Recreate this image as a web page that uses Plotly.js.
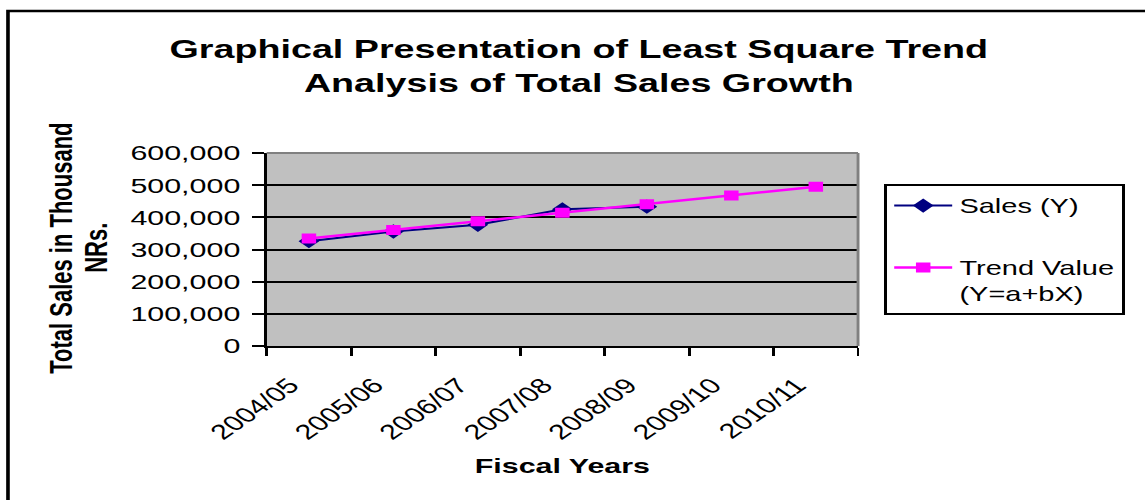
<!DOCTYPE html>
<html>
<head>
<meta charset="utf-8">
<script src="https://cdn.plot.ly/plotly-3.0.1.min.js"></script>
<style>
  html, body { margin: 0; padding: 0; width: 1145px; height: 500px; overflow: hidden; background: #ffffff; }
  #chart { width: 790px; height: 500px; transform: scaleX(1.4494); transform-origin: 0 0; }
</style>
</head>
<body>
<div id="chart"></div>
<script>
// ---- data ----
const fiscalYears = ['2004/05', '2005/06', '2006/07', '2007/08', '2008/09', '2009/10', '2010/11'];
const salesYears = ['2004/05', '2005/06', '2006/07', '2007/08', '2008/09'];
const salesValues = [326000, 356000, 377000, 425000, 433000];
const trendValues = [334000, 361000, 388000, 414000, 441000, 468000, 495000];
const yTickValues = [0, 100000, 200000, 300000, 400000, 500000, 600000];
const yTitleLines = ['Total Sales in Thousand', 'NRs.'];

const FONT = '"Liberation Sans", Arial, Helvetica, sans-serif';

const traces = [
  {
    type: 'scatter', mode: 'lines+markers', name: 'Sales (Y)',
    x: salesYears, y: salesValues, legendgroup: 'a',
    line: { color: '#000080', width: 2 },
    marker: { symbol: 'diamond', size: 11, color: '#000080' }
  },
  {
    type: 'scatter', mode: 'lines+markers', name: 'Trend Value<br>(Y=a+bX)',
    x: fiscalYears, y: trendValues, legendgroup: 'b',
    line: { color: '#FF00FF', width: 2.5 },
    marker: { symbol: 'square', size: 10, color: '#FF00FF' }
  }
];

const layout = {
  width: 790, height: 500,
  margin: { l: 184, r: 198, t: 153, b: 154 },
  paper_bgcolor: '#ffffff',
  plot_bgcolor: '#C0C0C0',
  font: { family: FONT, color: '#000000' },
  showlegend: true,
  title: {
    text: '<b>Graphical Presentation of Least Square Trend<br>Analysis of Total Sales Growth</b>',
    font: { family: FONT, size: 26, color: '#000000' },
    x: 0.5055, xref: 'container', xanchor: 'center',
    y: 0.884, yref: 'container', yanchor: 'top'
  },
  xaxis: {
    type: 'category',
    categoryorder: 'array', categoryarray: fiscalYears,
    range: [-0.5, 6.5],
    tickson: 'boundaries',
    ticks: 'outside', ticklen: 8, tickwidth: 2, tickcolor: '#000000',
    showline: true, linecolor: '#000000', linewidth: 2,
    showgrid: false, zeroline: false,
    tickangle: -45,
    ticklabelshift: -13,
    ticklabelstandoff: 17,
    tickfont: { family: FONT, size: 21, color: '#000000' },
    title: { text: '<b>Fiscal Years</b>', standoff: 16, font: { family: FONT, size: 21, color: '#000000' } },
    fixedrange: true
  },
  yaxis: {
    range: [0, 600000],
    tickvals: yTickValues,
    tickformat: ',d',
    ticks: 'outside', ticklen: 8, tickwidth: 2, tickcolor: '#000000',
    ticklabelstandoff: 4,
    showline: true, linecolor: '#000000', linewidth: 2,
    showgrid: true, gridcolor: '#000000', gridwidth: 2,
    zeroline: false,
    tickfont: { family: FONT, size: 21, color: '#000000' },
    fixedrange: true
  },
  annotations: [
    { text: '<b>' + yTitleLines[0] + '</b>', xref: 'paper', yref: 'paper', x: -0.346, y: 0.508,
      xanchor: 'center', yanchor: 'middle', textangle: -90, showarrow: false,
      font: { family: FONT, size: 22, color: '#000000' } },
    { text: '<b>' + yTitleLines[1] + '</b>', xref: 'paper', yref: 'paper', x: -0.287, y: 0.508,
      xanchor: 'center', yanchor: 'middle', textangle: -90, showarrow: false,
      font: { family: FONT, size: 22, color: '#000000' } }
  ],
  legend: {
    x: 1.044, xanchor: 'left', y: 0.839, yanchor: 'top',
    bgcolor: '#ffffff', bordercolor: '#000000', borderwidth: 2,
    font: { family: FONT, size: 20, color: '#000000' },
    tracegroupgap: 33, valign: 'top', itemwidth: 40
  },
  shapes: [
    // gray plot-area border (top and right)
    { type: 'line', xref: 'paper', yref: 'paper', x0: 0, x1: 1, y0: 1, y1: 1, line: { color: '#808080', width: 2 }, layer: 'above' },
    { type: 'line', xref: 'paper', yref: 'paper', x0: 1, x1: 1, y0: 0, y1: 1, line: { color: '#808080', width: 2 }, layer: 'above' },
    // outer chart frame (top and left visible)
    { type: 'rect', xref: 'paper', yref: 'paper', x0: -0.4375, x1: 1.6, y0: -1, y1: 1.7358, line: { color: '#000000', width: 2.5 }, fillcolor: 'rgba(0,0,0,0)', layer: 'above' }
  ]
};

Plotly.newPlot('chart', traces, layout, { displayModeBar: false, staticPlot: true });
</script>
</body>
</html>
